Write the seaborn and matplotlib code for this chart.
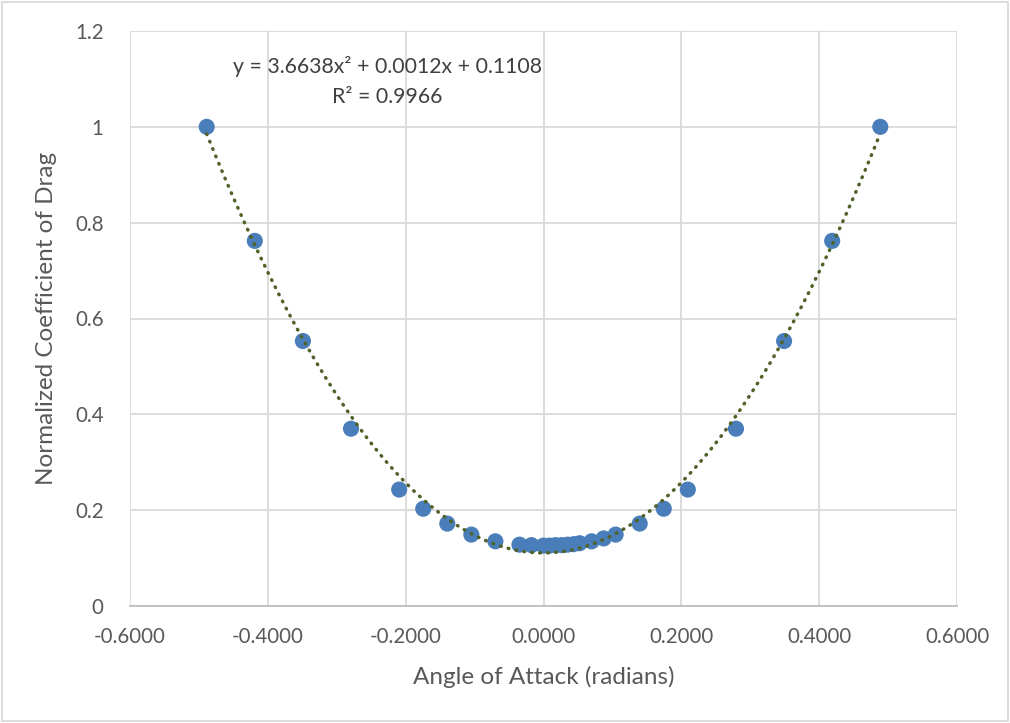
import numpy as np
import pandas as pd
import matplotlib
matplotlib.use("Agg")
import matplotlib.pyplot as plt
import seaborn as sns
from matplotlib.ticker import FixedLocator, FuncFormatter

# ---- data ----
angle_rad = [-0.4887, -0.4189, -0.3491, -0.2793, -0.2094, -0.1745, -0.1396, -0.1047,
             -0.0698, -0.0349, -0.0175, 0.0, 0.0087, 0.0175, 0.0262, 0.0349, 0.0436,
             0.0524, 0.0698, 0.0873, 0.1047, 0.1396, 0.1745, 0.2094, 0.2793, 0.3491,
             0.4189, 0.4887]
cd_norm = [1.000, 0.762, 0.553, 0.370, 0.243, 0.203, 0.172, 0.149,
           0.135, 0.128, 0.127, 0.126, 0.126, 0.127, 0.127, 0.128, 0.129,
           0.131, 0.135, 0.141, 0.149, 0.172, 0.203, 0.243, 0.370, 0.553,
           0.762, 1.000]
trend_coef = [3.6638, 0.0012, 0.1108]
x_ticks = [-0.6, -0.4, -0.2, 0.0, 0.2, 0.4, 0.6]
y_ticks = [0, 0.2, 0.4, 0.6, 0.8, 1.0, 1.2]
equation_text = "y = 3.6638x² + 0.0012x + 0.1108"
r2_text = "R² = 0.9966"
x_label = "Angle of Attack (radians)"
y_label = "Normalized Coefficient of Drag"

df = pd.DataFrame({"x": angle_rad, "y": cd_norm})

sns.set_theme(style="white")
plt.rcParams["font.family"] = ["Lato", "DejaVu Sans"]

fig = plt.figure(figsize=(10.10, 7.23), dpi=100)
ax = fig.add_axes([130/1010, (723-606)/723, (957-130)/1010, (606-31)/723])

# trendline (polynomial order 2)
xs = np.linspace(min(angle_rad), max(angle_rad), 300)
trend = pd.DataFrame({"x": xs, "y": np.polyval(trend_coef, xs)})

sns.scatterplot(data=df, x="x", y="y", ax=ax, s=135, color="#4A7EBB",
                edgecolor="none", zorder=3)
sns.lineplot(data=trend, x="x", y="y", ax=ax, color="#4F6228", lw=2.5,
             linestyle=(0, (0.2, 2.1)), dash_capstyle="round", zorder=4)

ax.set_xlim(-0.6, 0.6)
ax.set_ylim(0, 1.2)
ax.xaxis.set_major_locator(FixedLocator(x_ticks))
ax.yaxis.set_major_locator(FixedLocator(y_ticks))
ax.xaxis.set_major_formatter(FuncFormatter(lambda v, p: f"{v:.4f}"))
ax.yaxis.set_major_formatter(FuncFormatter(lambda v, p: f"{v:g}"))
ax.grid(True, color="#D9D9D9", lw=1.3)
ax.set_axisbelow(True)
for s in ["top", "right", "left"]:
    ax.spines[s].set_visible(False)
ax.spines["bottom"].set_color("#BFBFBF")
ax.spines["bottom"].set_linewidth(1.3)
ax.tick_params(axis="both", length=0, labelsize=14.8, labelcolor="#595959")
ax.tick_params(axis="x", pad=15)
ax.tick_params(axis="y", pad=19)

ax.set_xlabel(x_label, fontsize=17.5, color="#595959", labelpad=14)
ax.set_ylabel(y_label, fontsize=17.5, color="#595959", labelpad=13)

ax.text(0.311, 0.939, equation_text, transform=ax.transAxes, ha="center",
        va="center", fontsize=15.3, color="#404040")
ax.text(0.311, 0.886, r2_text, transform=ax.transAxes, ha="center",
        va="center", fontsize=15.3, color="#404040")

# outer chart border
fig.patches.append(plt.Rectangle((0.002, 0.003), 0.996, 0.994, transform=fig.transFigure,
                                 fill=False, edgecolor="#D9D9D9", lw=1.3))

fig.savefig("out.png", dpi=100)
